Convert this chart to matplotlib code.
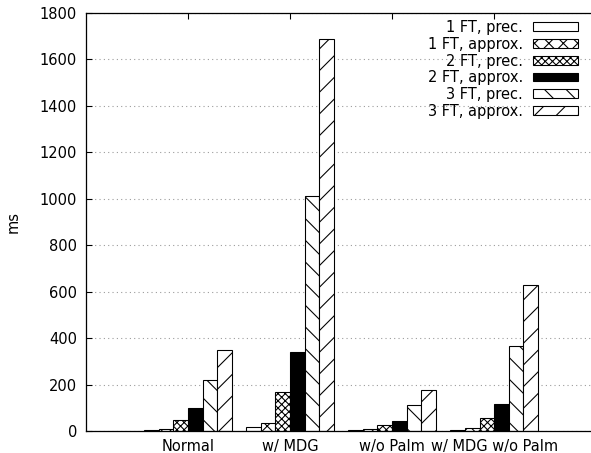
import numpy as np
import matplotlib
matplotlib.use("Agg")
import matplotlib.pyplot as plt

categories = ["Normal", "w/ MDG", "w/o Palm", "w/ MDG w/o Palm"]
series = ["1 FT, prec.", "1 FT, approx.", "2 FT, prec.", "2 FT, approx.",
          "3 FT, prec.", "3 FT, approx."]
values = [
    [4, 18, 4, 5],          # 1 FT, prec.
    [9, 33, 10, 12],        # 1 FT, approx.
    [48, 170, 24, 58],      # 2 FT, prec.
    [97, 342, 45, 117],     # 2 FT, approx.
    [220, 1012, 113, 366],  # 3 FT, prec.
    [350, 1688, 178, 630],  # 3 FT, approx.
]
y_ticks = list(range(0, 1801, 200))

hatches = ["", "xxx", "xxxxxx", "", "\\\\", "//"]
faces = ["white", "white", "white", "black", "white", "white"]

plt.rcParams["hatch.linewidth"] = 0.6
plt.rcParams["font.family"] = "DejaVu Sans"
fs = 8.1

dpi = 130
fig = plt.figure(figsize=(591 / dpi, 453 / dpi), dpi=dpi)
ax = fig.add_axes([86 / 591, 22 / 453, 505 / 591, 418 / 453])

x = np.arange(len(categories))
w = 1 / 7
for i, name in enumerate(series):
    ax.bar(x + (i - 2.5) * w, values[i], width=w, color=faces[i],
           edgecolor="black", linewidth=0.6, hatch=hatches[i], label=name, zorder=2)

ax.set_xlim(-1, 3.95)
ax.set_ylim(0, 1800)
ax.set_yticks(y_ticks)
ax.set_xticks(x)
ax.set_xticklabels(categories)
ax.tick_params(axis="both", labelsize=fs, direction="in", length=3.3, width=0.6)
ax.tick_params(axis="x", top=True, bottom=False, pad=4.3)
ax.tick_params(axis="y", pad=5)
ax.spines["right"].set_visible(False)
for s in ["left", "top", "bottom"]:
    ax.spines[s].set_linewidth(0.7)
ax.set_axisbelow(True)
ax.yaxis.grid(True, linestyle=(0, (1, 3)), color="#999999", linewidth=0.6)

ax.set_ylabel("ms", fontsize=fs, labelpad=10.5)

ax.legend(loc="upper right", bbox_to_anchor=(578 / 591, 1 - 20 / 453),
          bbox_transform=fig.transFigure, frameon=False, fontsize=fs,
          markerfirst=False, handlelength=3.08, handleheight=0.55,
          handletextpad=0.68, labelspacing=0.12, borderpad=0, borderaxespad=0)

fig.savefig("out.png", dpi=dpi)
